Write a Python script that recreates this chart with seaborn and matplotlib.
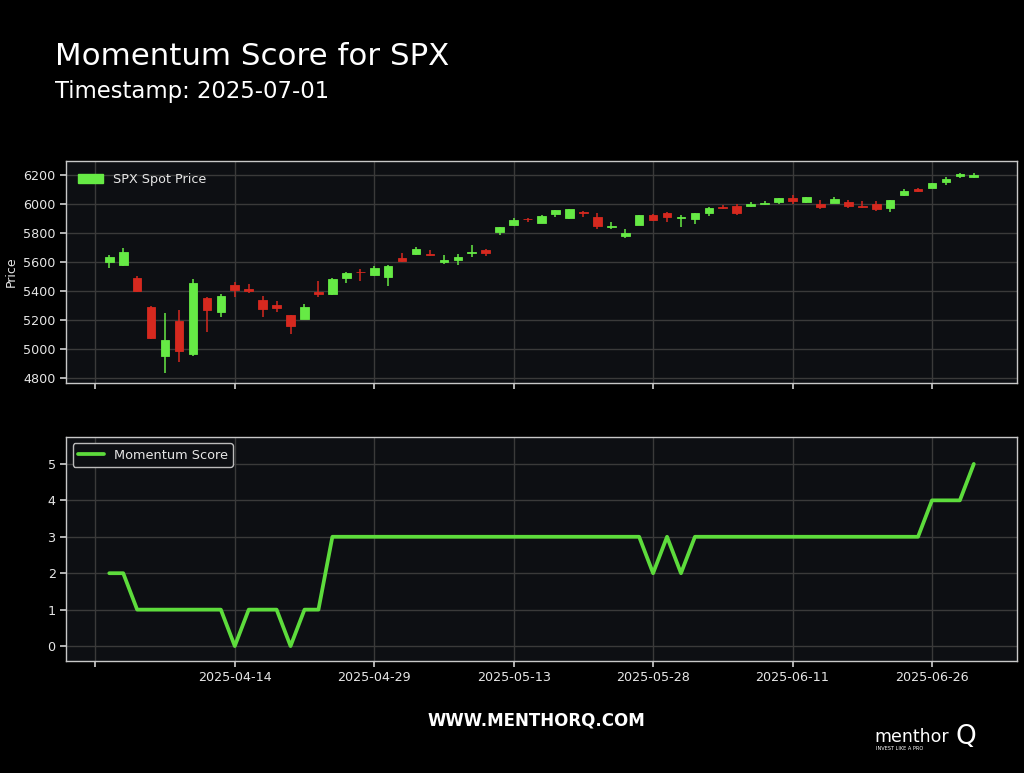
import matplotlib
matplotlib.use("Agg")
import matplotlib.pyplot as plt
from matplotlib.patches import Patch
import numpy as np
import pandas as pd
import seaborn as sns

# ---------------- data ----------------
dates = ["2025-04-01", "2025-04-02", "2025-04-03", "2025-04-04", "2025-04-07", "2025-04-08",
         "2025-04-09", "2025-04-10", "2025-04-11", "2025-04-14", "2025-04-15", "2025-04-16",
         "2025-04-17", "2025-04-21", "2025-04-22", "2025-04-23", "2025-04-24", "2025-04-25",
         "2025-04-28", "2025-04-29", "2025-04-30", "2025-05-01", "2025-05-02", "2025-05-05",
         "2025-05-06", "2025-05-07", "2025-05-08", "2025-05-09", "2025-05-12", "2025-05-13",
         "2025-05-14", "2025-05-15", "2025-05-16", "2025-05-19", "2025-05-20", "2025-05-21",
         "2025-05-22", "2025-05-23", "2025-05-27", "2025-05-28", "2025-05-29", "2025-05-30",
         "2025-06-02", "2025-06-03", "2025-06-04", "2025-06-05", "2025-06-06", "2025-06-09",
         "2025-06-10", "2025-06-11", "2025-06-12", "2025-06-13", "2025-06-16", "2025-06-17",
         "2025-06-18", "2025-06-20", "2025-06-23", "2025-06-24", "2025-06-25", "2025-06-26",
         "2025-06-27", "2025-06-30", "2025-07-01"]

open_ = [5598, 5581, 5492, 5292, 4953, 5193, 4966, 5353, 5255, 5441, 5412, 5335,
         5305, 5232, 5207, 5395, 5381, 5489, 5532, 5508, 5499, 5626, 5655, 5655,
         5600, 5614, 5660, 5680, 5807, 5854, 5898, 5869, 5929, 5902, 5947, 5910,
         5841, 5782, 5855, 5926, 5939, 5903, 5897, 5938, 5978, 5985, 5987, 5998,
         6010, 6042, 6010, 6000, 6004, 6012, 5985, 5999, 5970, 6061, 6105, 6112,
         6151, 6193, 6187]
high = [5650, 5695, 5500, 5293, 5246, 5267, 5481, 5355, 5380, 5460, 5450, 5367,
        5328, 5233, 5309, 5469, 5489, 5528, 5553, 5571, 5581, 5659, 5700, 5683,
        5646, 5654, 5720, 5691, 5844, 5906, 5906, 5925, 5958, 5968, 5953, 5939,
        5878, 5829, 5924, 5930, 5943, 5922, 5940, 5981, 5990, 5999, 6016, 6021,
        6044, 6059, 6045, 6026, 6050, 6024, 6019, 6018, 6025, 6101, 6108, 6146,
        6187, 6215, 6210]
low = [5560, 5571, 5391, 5069, 4835, 4910, 4950, 5115, 5221, 5358, 5386, 5220,
       5255, 5101, 5207, 5356, 5371, 5455, 5468, 5505, 5434, 5597, 5650, 5640,
       5585, 5578, 5634, 5644, 5786, 5845, 5876, 5867, 5907, 5895, 5909, 5830,
       5825, 5767, 5853, 5883, 5874, 5843, 5861, 5920, 5966, 5921, 5978, 5996,
       6003, 6002, 6004, 5963, 6004, 5973, 5971, 5952, 5943, 6054, 6080, 6107,
       6133, 6177, 6178]
close = [5633, 5671, 5397, 5074, 5062, 4983, 5457, 5268, 5363, 5406, 5397, 5276,
         5283, 5158, 5288, 5376, 5485, 5525, 5528, 5561, 5569, 5604, 5687, 5650,
         5612, 5631, 5670, 5660, 5844, 5887, 5893, 5917, 5958, 5964, 5940, 5845,
         5846, 5803, 5922, 5889, 5912, 5912, 5936, 5970, 5971, 5939, 6000, 6006,
         6039, 6022, 6045, 5977, 6033, 5983, 5981, 5968, 6025, 6092, 6092, 6141,
         6173, 6205, 6198]

momentum = [2, 2, 1, 1, 1, 1, 1, 1, 1, 0, 1, 1, 1, 0, 1, 1, 3, 3, 3, 3, 3, 3, 3, 3,
            3, 3, 3, 3, 3, 3, 3, 3, 3, 3, 3, 3, 3, 3, 3, 2, 3, 2, 3, 3, 3, 3, 3, 3,
            3, 3, 3, 3, 3, 3, 3, 3, 3, 3, 3, 4, 4, 4, 5]

tick_pos = [-1, 9, 19, 29, 39, 49, 59]
tick_labels = ["", "2025-04-14", "2025-04-29", "2025-05-13", "2025-05-28",
               "2025-06-11", "2025-06-26"]

title = "Momentum Score for SPX"
subtitle = "Timestamp: 2025-07-01"

# ---------------- style ----------------
GREEN = "#66ea45"
RED = "#d6291f"
LINE = "#5ddc3c"
AX_BG = "#0d0f13"
GRID = "#3a3a3a"
SPINE = "#c8c8c8"
TXT = "#e6e6e6"

sns.set_theme(style="dark")
plt.rcParams["font.family"] = ["DejaVu Sans"]
plt.rcParams.update({
    "axes.facecolor": AX_BG,
    "figure.facecolor": "black",
    "axes.edgecolor": SPINE,
    "xtick.color": SPINE,
    "ytick.color": SPINE,
    "xtick.labelcolor": TXT,
    "ytick.labelcolor": TXT,
    "xtick.bottom": True,
    "ytick.left": True,
    "xtick.major.size": 4,
    "ytick.major.size": 4,
    "font.size": 9,
})

df = pd.DataFrame({"date": dates, "open": open_, "high": high, "low": low,
                   "close": close, "momentum": momentum})
df["idx"] = np.arange(len(df))
df["up"] = df["close"] >= df["open"]
df["color"] = np.where(df["up"], GREEN, RED)

fig = plt.figure(figsize=(10.24, 7.73), dpi=100, facecolor="black")
ax1 = fig.add_axes([0.0645, 0.5045, 0.9287, 0.2872])
ax2 = fig.add_axes([0.0645, 0.1449, 0.9287, 0.2898])

# ---- candles ----
body_bottom = np.minimum(df["open"], df["close"])
body_h = np.abs(df["close"] - df["open"])
ax1.vlines(df["idx"], df["low"], df["high"], colors=df["color"], linewidth=1.1, zorder=2)
ax1.bar(df["idx"], body_h, bottom=body_bottom, width=0.62, color=df["color"],
        edgecolor=df["color"], linewidth=0.6, zorder=3)
ax1.set_ylim(4765, 6296)
ax1.set_yticks(np.arange(4800, 6201, 200))
ax1.set_ylabel("Price", color=TXT, fontsize=9, labelpad=4)
leg1 = ax1.legend(handles=[Patch(facecolor=GREEN, edgecolor=GREEN, label="SPX Spot Price")],
                  loc="upper left", frameon=False, fontsize=9.2, labelcolor=TXT)

# ---- momentum ----
sns.lineplot(data=df, x="idx", y="momentum", ax=ax2, color=LINE, linewidth=2.7,
             label="Momentum Score")
ax2.set_ylim(-0.41, 5.74)
ax2.set_yticks(range(0, 6))
ax2.set_xlabel("")
ax2.set_ylabel("")
leg2 = ax2.legend(loc="upper left", fontsize=9.3, labelcolor=TXT, frameon=True,
                  facecolor=AX_BG, edgecolor="#bbbbbb", framealpha=1)

for ax in (ax1, ax2):
    ax.set_xlim(-3.1, 65.1)
    ax.set_xticks(tick_pos)
    ax.grid(True, color=GRID, linewidth=1.0)
    ax.set_axisbelow(True)
    for s in ax.spines.values():
        s.set_color(SPINE)
        s.set_linewidth(1.0)
    ax.tick_params(labelsize=9.2)
ax1.set_xticklabels([])
ax2.set_xticklabels(tick_labels)

# ---- titles / footer ----
fig.text(0.054, 0.916, title, color="white", fontsize=22.2, ha="left", va="baseline")
fig.text(0.054, 0.873, subtitle, color="white", fontsize=16.4, ha="left", va="baseline")
fig.text(0.524, 0.062, "WWW.MENTHORQ.COM", color="white", fontsize=12,
         fontweight="bold", ha="center", va="baseline")
fig.text(0.854, 0.040, "menthor", color="white", fontsize=12.5, ha="left", va="baseline")
fig.text(0.943, 0.037, "Q", color="white", fontsize=19, ha="center", va="baseline")
fig.text(0.855, 0.030, "INVEST LIKE A PRO", color="white", fontsize=3.6, ha="left",
         va="baseline")

fig.savefig("out.png", dpi=100, facecolor="black")
